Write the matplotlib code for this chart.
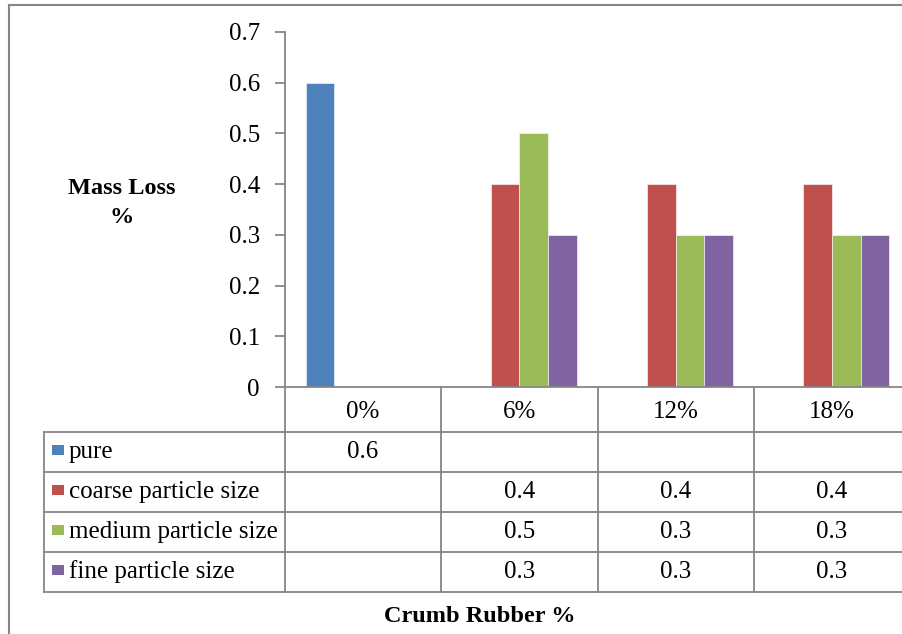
import matplotlib.pyplot as plt
from matplotlib.lines import Line2D
from matplotlib.patches import Rectangle
import matplotlib.transforms as mtransforms

categories = ["0%", "6%", "12%", "18%"]
series = ["pure", "coarse particle size", "medium particle size", "fine particle size"]
values = [
    [0.6, None, None, None],
    [None, 0.4, 0.4, 0.4],
    [None, 0.5, 0.3, 0.3],
    [None, 0.3, 0.3, 0.3],
]
colors = ["#4F81BD", "#C0504D", "#9BBB59", "#8064A2"]
yticks = [0, 0.1, 0.2, 0.3, 0.4, 0.5, 0.6, 0.7]

W, H = 902, 634
GRID = "#868686"
FS = 18
plt.rcParams["font.family"] = ["Liberation Serif", "DejaVu Serif"]

fig = plt.figure(figsize=(W / 100, H / 100), dpi=100)


def fx(px):
    return px / W


def fy(py):
    return 1 - py / H


# plot area (extends past the right edge, as in the cropped original)
ax = fig.add_axes([fx(285), fy(387), fx(910 - 285), fy(32) - fy(387)])
ax.set_xlim(-0.5, len(categories) - 0.5)
ax.set_ylim(0, 0.7)

bw = 0.1834
for i, (name, vals) in enumerate(zip(series, values)):
    off = (i - 1.5) * bw
    for j, v in enumerate(vals):
        if v is None:
            continue
        ax.bar(j + off, v, width=bw, color=colors[i], edgecolor="#FFFFFF",
               linewidth=0.4, zorder=2)

for s in ["top", "right"]:
    ax.spines[s].set_visible(False)
for s in ["left", "bottom"]:
    ax.spines[s].set_color(GRID)
    ax.spines[s].set_linewidth(1.3)
ax.set_yticks(yticks)
ax.set_yticklabels([f"{t:g}" for t in yticks])
ax.tick_params(axis="y", direction="out", length=7, width=1.3, color=GRID,
               labelsize=FS, pad=11)
ax.set_xticks([])

# data table below the plot
blend = mtransforms.blended_transform_factory(ax.transData, fig.transFigure)
row_edges = [387, 432, 472, 512, 552, 592]
col_edges = [j - 0.5 for j in range(len(categories) + 1)]
lkw = dict(color=GRID, linewidth=1.3, clip_on=False)

# vertical lines of category columns
for x in col_edges:
    fig.add_artist(Line2D([x, x], [fy(row_edges[0]), fy(row_edges[-1])],
                          transform=blend, **lkw))
# horizontal row lines
for r in row_edges[1:]:
    fig.add_artist(Line2D([fx(44), 1.02], [fy(r), fy(r)],
                          transform=fig.transFigure, **lkw))
fig.add_artist(Line2D([fx(44), fx(44)], [fy(row_edges[1]), fy(row_edges[-1])],
                      transform=fig.transFigure, **lkw))

# header row
hy = fy((row_edges[0] + row_edges[1]) / 2 + 2)
for j, c in enumerate(categories):
    fig.text(j, hy, c, transform=blend, ha="center", va="center", fontsize=FS)

# series rows
for i, (name, vals) in enumerate(zip(series, values)):
    cy = (row_edges[i + 1] + row_edges[i + 2]) / 2
    fig.add_artist(Rectangle((fx(52), fy(cy + 3)), fx(12), fy(cy - 7) - fy(cy + 3),
                             transform=fig.transFigure, color=colors[i], lw=0))
    fig.text(fx(69), fy(cy), name, ha="left", va="center", fontsize=FS)
    for j, v in enumerate(vals):
        if v is not None:
            fig.text(j, fy(cy), f"{v:g}", transform=blend, ha="center",
                     va="center", fontsize=FS)

# axis titles
fig.text(fx(122), fy(203), "Mass Loss\n%", ha="center", va="center",
         fontsize=17.5, fontweight="bold", linespacing=1.45)
fig.text(fx(480), fy(617), "Crumb Rubber %", ha="center", va="center",
         fontsize=17.5, fontweight="bold")

# outer chart border (cropped on right and bottom)
fig.add_artist(Line2D([fx(8.5), fx(8.5)], [fy(5), -0.01],
                      transform=fig.transFigure, color=GRID, linewidth=1.5))
fig.add_artist(Line2D([fx(8.5), 1.01], [fy(5), fy(5)],
                      transform=fig.transFigure, color=GRID, linewidth=1.5))

fig.savefig("out.png", dpi=100)
